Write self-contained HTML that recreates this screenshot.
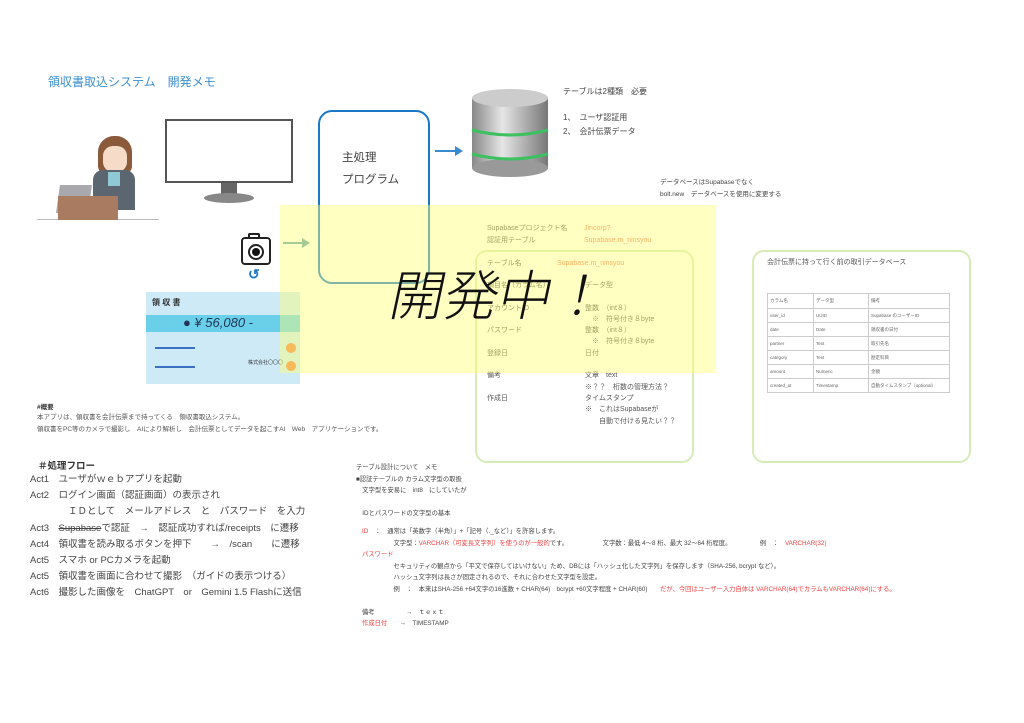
<!DOCTYPE html>
<html><head><meta charset="utf-8"><style>
*{margin:0;padding:0;box-sizing:border-box}
body{width:1024px;height:723px;background:#fff;position:relative;overflow:hidden;font-family:"Liberation Sans","Noto Sans CJK JP",sans-serif;color:#555}
.a{position:absolute;white-space:nowrap}
.s{font-size:7px;line-height:12px}
.r{color:#f04040}
.f{font-size:10px;color:#444}
</style></head><body>
<div class="a" style="left:48px;top:73px;font-size:12px;color:#3b8fd0">領収書取込システム　開発メモ</div>

<!-- person -->
<div class="a" style="left:37px;top:219px;width:122px;height:1px;background:#bbb"></div>
<div class="a" style="left:98px;top:136px;width:34px;height:38px;border-radius:16px 16px 8px 8px;background:#8a5a3a"></div>
<div class="a" style="left:103px;top:146px;width:24px;height:26px;border-radius:10px;background:#f6dcc8"></div>
<div class="a" style="left:93px;top:170px;width:42px;height:40px;border-radius:10px 10px 0 0;background:#5c6670"></div>
<div class="a" style="left:108px;top:172px;width:12px;height:14px;background:#8fc9d6"></div>
<div class="a" style="left:58px;top:185px;width:32px;height:28px;background:#a8a8ad;transform:skewX(-8deg)"></div>
<div class="a" style="left:58px;top:196px;width:60px;height:24px;background:#a97c62"></div>

<!-- monitor -->
<div class="a" style="left:165px;top:119px;width:128px;height:64px;border:2px solid #555;background:#fff"></div>
<div class="a" style="left:221px;top:183px;width:16px;height:13px;background:#666"></div>
<div class="a" style="left:204px;top:193px;width:50px;height:10px;border-radius:50%;background:#888"></div>

<!-- main box -->
<div class="a" style="left:318px;top:110px;width:112px;height:174px;border:2.5px solid #1a78c8;border-radius:14px"></div>
<div class="a" style="left:342px;top:147px;font-size:11.5px;color:#444;line-height:22px">主処理<br>プログラム</div>
<div class="a" style="left:435px;top:150px;width:22px;height:2px;background:#3a8ad0"></div>
<div class="a" style="left:455px;top:146px;border-left:8px solid #3a8ad0;border-top:5px solid transparent;border-bottom:5px solid transparent"></div>

<!-- database -->
<svg class="a" style="left:470px;top:88px" width="80" height="90">
<defs><linearGradient id="g" x1="0" x2="1"><stop offset="0" stop-color="#888"/><stop offset=".4" stop-color="#e6e6e6"/><stop offset="1" stop-color="#777"/></linearGradient></defs>
<rect x="2" y="10" width="76" height="70" fill="url(#g)"/>
<ellipse cx="40" cy="80" rx="38" ry="9" fill="#999"/>
<ellipse cx="40" cy="10" rx="38" ry="9" fill="#ccc"/>
<path d="M2 42 Q40 52 78 42" stroke="#3cc060" stroke-width="3" fill="none"/>
<path d="M2 66 Q40 76 78 66" stroke="#3cc060" stroke-width="3" fill="none"/>
</svg>
<div class="a" style="left:563px;top:86px;font-size:8px;color:#444">テーブルは2種類　必要</div>
<div class="a" style="left:563px;top:111px;font-size:8px;color:#444;line-height:14px">1、　ユーザ認証用<br>2、　会計伝票データ</div>
<div class="a s" style="left:660px;top:177px;font-size:6.5px;color:#444">データベースはSupabaseでなく<br>bolt.new　データベースを使用に変更する</div>

<!-- green boxes -->
<div class="a" style="left:475px;top:250px;width:219px;height:213px;border:2.5px solid #d6ecb6;border-radius:12px"></div>
<div class="a" style="left:752px;top:250px;width:219px;height:213px;border:2.5px solid #d6ecb6;border-radius:12px"></div>

<div class="a s" style="left:487px;top:223px">Supabaseプロジェクト名<br>認証用テーブル</div>
<div class="a s r" style="left:584px;top:223px;color:#ff7050">Jincorp?<br>Supabase.m_ninsyou</div>
<div class="a s" style="left:487px;top:258px">テーブル名</div>
<div class="a s" style="left:557px;top:258px;color:#ff7050">Supabase.m_ninsyou</div>
<div class="a" style="left:487px;top:280px;font-size:7px;line-height:11.3px">項目名（カラム名）<br><br>アカウントID<br><br>パスワード<br><br>登録日<br><br>備考<br><br>作成日</div>
<div class="a" style="left:585px;top:280px;font-size:7px;line-height:11.3px">データ型<br><br>整数　（int８）<br>　※　符号付き８byte<br>整数　（int８）<br>　※　符号付き８byte<br>日付<br><br>文章　text<br>※？？　桁数の管理方法？<br>タイムスタンプ<br>※　これはSupabaseが<br>　　自動で付ける見たい？？</div>

<div class="a" style="left:767px;top:257px;font-size:7px;color:#555">会計伝票に持って行く前の取引データベース</div>
<table class="a" style="left:767px;top:293px;border-collapse:collapse;font-size:4.5px;color:#666">
<tr style="height:15px"><td style="border:1px solid #ccc;width:46px;padding-left:2px">カラム名</td><td style="border:1px solid #ccc;width:55px;padding-left:2px">データ型</td><td style="border:1px solid #ccc;width:81px;padding-left:2px">備考</td></tr>
<tr style="height:14px"><td style="border:1px solid #ccc;padding-left:2px">user_id</td><td style="border:1px solid #ccc;padding-left:2px">UUID</td><td style="border:1px solid #ccc;padding-left:2px">Supabase のユーザーID</td></tr>
<tr style="height:14px"><td style="border:1px solid #ccc;padding-left:2px">date</td><td style="border:1px solid #ccc;padding-left:2px">Date</td><td style="border:1px solid #ccc;padding-left:2px">領収書の日付</td></tr>
<tr style="height:14px"><td style="border:1px solid #ccc;padding-left:2px">partner</td><td style="border:1px solid #ccc;padding-left:2px">Text</td><td style="border:1px solid #ccc;padding-left:2px">取引先名</td></tr>
<tr style="height:14px"><td style="border:1px solid #ccc;padding-left:2px">category</td><td style="border:1px solid #ccc;padding-left:2px">Text</td><td style="border:1px solid #ccc;padding-left:2px">勘定科目</td></tr>
<tr style="height:14px"><td style="border:1px solid #ccc;padding-left:2px">amount</td><td style="border:1px solid #ccc;padding-left:2px">Numeric</td><td style="border:1px solid #ccc;padding-left:2px">金額</td></tr>
<tr style="height:14px"><td style="border:1px solid #ccc;padding-left:2px">created_at</td><td style="border:1px solid #ccc;padding-left:2px">Timestamp</td><td style="border:1px solid #ccc;padding-left:2px">自動タイムスタンプ（optional）</td></tr>
</table>

<!-- camera -->
<div class="a" style="left:241px;top:237px;width:30px;height:28px;border:2px solid #222;border-radius:4px;background:#fff"></div>
<div class="a" style="left:248px;top:233px;width:12px;height:5px;border:2px solid #222;border-bottom:none;border-radius:2px 2px 0 0"></div>
<div class="a" style="left:248px;top:244px;width:16px;height:16px;border:2px solid #222;border-radius:50%;background:#fff"></div>
<div class="a" style="left:252px;top:248px;width:8px;height:8px;border-radius:50%;background:#111"></div>
<div class="a" style="left:248px;top:266px;font-size:14px;font-weight:bold;color:#1a78c8">↺</div>
<div class="a" style="left:283px;top:242px;width:20px;height:2px;background:#5aa0b0"></div>
<div class="a" style="left:302px;top:238px;border-left:8px solid #5aa0b0;border-top:5px solid transparent;border-bottom:5px solid transparent"></div>

<!-- receipt -->
<div class="a" style="left:146px;top:292px;width:154px;height:92px;background:#cdeaf6"></div>
<div class="a" style="left:146px;top:315px;width:154px;height:17px;background:#6ad0ea"></div>
<div class="a" style="left:152px;top:297px;font-size:8px;font-weight:bold;color:#333">領 収 書</div>
<div class="a" style="left:183px;top:315px;font-size:13px;font-style:italic;color:#235">● ¥ 56,080 -</div>
<div class="a" style="left:155px;top:347px;width:40px;height:2px;background:#3a70c0"></div>
<div class="a" style="left:155px;top:366px;width:40px;height:2px;background:#3a70c0"></div>
<div class="a" style="left:248px;top:359px;font-size:5px;color:#333">株式会社〇〇〇</div>
<div class="a" style="left:286px;top:343px;width:10px;height:10px;border-radius:50%;background:#f08040"></div>
<div class="a" style="left:286px;top:361px;width:10px;height:10px;border-radius:50%;background:#f08040"></div>

<!-- yellow overlay -->
<div class="a" style="left:280px;top:205px;width:436px;height:168px;background:rgba(255,255,120,0.45)"></div>
<div class="a" style="left:384px;top:252px;font-size:54px;color:#111;font-weight:300;transform:skewX(-12deg);transform-origin:left bottom">開発中！</div>

<!-- overview -->
<div class="a" style="left:37px;top:401px;font-size:6.5px;font-weight:bold;color:#333">#概要</div>
<div class="a" style="left:37px;top:412px;font-size:6.5px;line-height:12px">本アプリは、領収書を会計伝票まで持ってくる　領収書取込システム。<br>領収書をPC等のカメラで撮影し　AIにより解析し　会計伝票としてデータを起こすAI　Web　アプリケーションです。</div>

<div class="a" style="left:38px;top:458px;font-size:9.5px;font-weight:bold;color:#333">＃処理フロー</div>
<div class="a f" style="left:30px;top:472px;line-height:16.2px;font-size:9.5px">
Act1　ユーザがｗｅｂアプリを起動<br>
Act2　ログイン画面（認証画面）の表示され<br>
　　　　ＩＤとして　メールアドレス　と　パスワード　を入力<br>
Act3　<s>Supabase</s>で認証　→　認証成功すれば/receipts　に遷移<br>
Act4　領収書を読み取るボタンを押下　　→　/scan　　に遷移<br>
Act5　スマホ or PCカメラを起動<br>
Act5　領収書を画面に合わせて撮影　（ガイドの表示つける）<br>
Act6　撮影した画像を　ChatGPT　or　Gemini 1.5 Flashに送信</div>

<!-- memo -->
<div class="a" style="left:356px;top:462px;font-size:6.3px;line-height:11.5px;color:#444">テーブル設計について　メモ<br>■認証テーブルの カラム文字型の取扱<br>　文字型を安易に　int8　にしていたが<br><br>　IDとパスワードの文字型の基本</div>
<div class="a" style="left:362px;top:526px;font-size:6.3px;line-height:11.5px;color:#444">
<span class="r">ID</span>　：　通常は「英数字（半角）」+「記号（._など）」を許容します。<br>
　　　　　文字型：<span class="r">VARCHAR（可変長文字列）を使うのが一般的</span>です。　　　　　　文字数：最低 4〜8 桁、最大 32〜64 桁程度。　　　　　例　：　<span class="r">VARCHAR(32)</span><br>
<span class="r">パスワード</span><br>
　　　　　セキュリティの観点から「平文で保存してはいけない」ため、DBには「ハッシュ化した文字列」を保存します（SHA-256, bcrypt など）。<br>
　　　　　ハッシュ文字列は長さが固定されるので、それに合わせた文字型を設定。<br>
　　　　　例　：　本来はSHA-256 +64文字の16進数 + CHAR(64)　bcrypt +60文字程度 + CHAR(60)　　<span class="r">だが、今回はユーザー入力自体は VARCHAR(64)でカラムもVARCHAR(64)にする。</span><br><br>
備考　　　　　→　ｔｅｘｔ<br>
<span class="r">作成日付</span>　　→　TIMESTAMP</div>
</body></html>
